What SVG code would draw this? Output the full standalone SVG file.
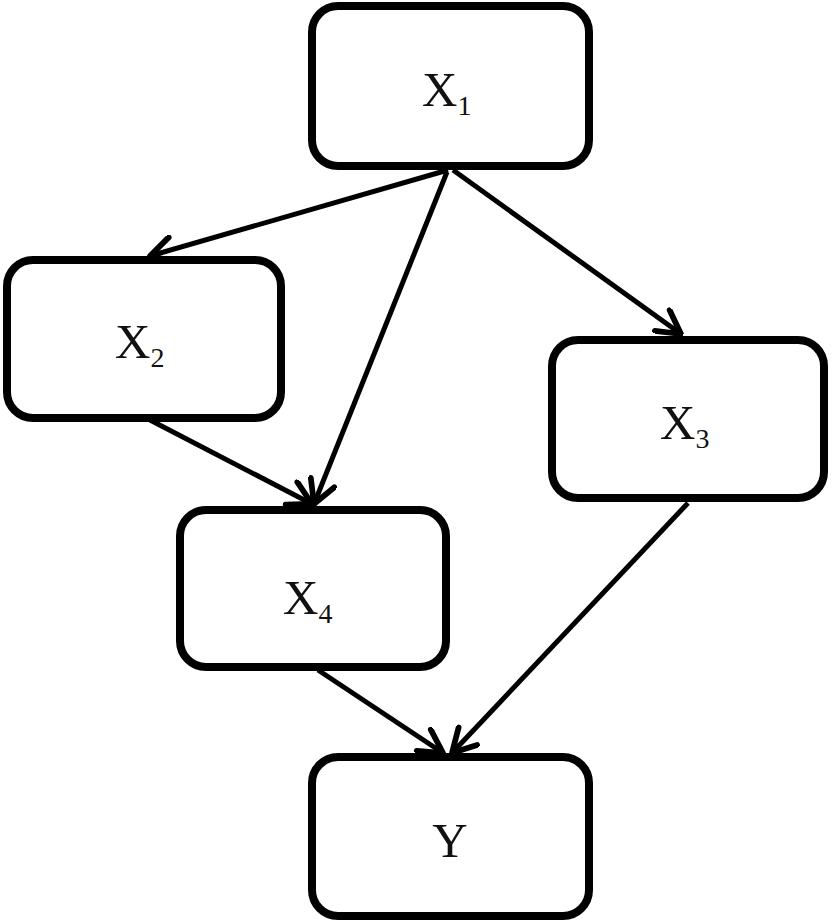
<svg xmlns="http://www.w3.org/2000/svg" width="833" height="923" viewBox="0 0 833 923">
<style>
.box{fill:#fff;stroke:#000;stroke-width:8}
.lbl{font-family:"Liberation Serif","Times New Roman",serif;font-size:49px;fill:#111}
.sub{font-size:28px}
.edge{stroke:#000;stroke-width:5;fill:none;marker-end:url(#arr)}
</style>
<defs>
<marker id="arr" markerUnits="userSpaceOnUse" markerWidth="30" markerHeight="30" viewBox="-24 -12 26 24" refX="0" refY="0" orient="auto">
<path d="M-20,-11 L0,0 L-20,11" fill="none" stroke="#000" stroke-width="5" stroke-linecap="round" stroke-linejoin="round"/>
</marker>
</defs>
<rect width="833" height="923" fill="#fff"/>
<g id="connectors">
<line class="edge" x1="448" y1="170" x2="150" y2="256"/>
<line class="edge" x1="447" y1="172" x2="314" y2="504"/>
<line class="edge" x1="453" y1="170" x2="681" y2="334"/>
<line class="edge" x1="150" y1="420" x2="312" y2="504"/>
<line class="edge" x1="318" y1="670" x2="443" y2="753"/>
<line class="edge" x1="688" y1="503" x2="452" y2="753"/>
</g>
<g id="X1">
<rect class="box" x="312" y="6" width="277" height="160" rx="26"/>
<text class="lbl" x="422" y="106">X<tspan class="sub" dy="9">1</tspan></text>
</g>
<g id="X2">
<rect class="box" x="7" y="260" width="274" height="158" rx="26"/>
<text class="lbl" x="115" y="358">X<tspan class="sub" dy="9">2</tspan></text>
</g>
<g id="X3">
<rect class="box" x="552" y="340" width="272" height="158" rx="26"/>
<text class="lbl" x="660" y="439">X<tspan class="sub" dy="9">3</tspan></text>
</g>
<g id="X4">
<rect class="box" x="180" y="510" width="266" height="157" rx="26"/>
<text class="lbl" x="283" y="614">X<tspan class="sub" dy="9">4</tspan></text>
</g>
<g id="Y">
<rect class="box" x="312" y="757" width="277" height="159" rx="26"/>
<text class="lbl" x="450" y="857" text-anchor="middle">Y</text>
</g>
</svg>
